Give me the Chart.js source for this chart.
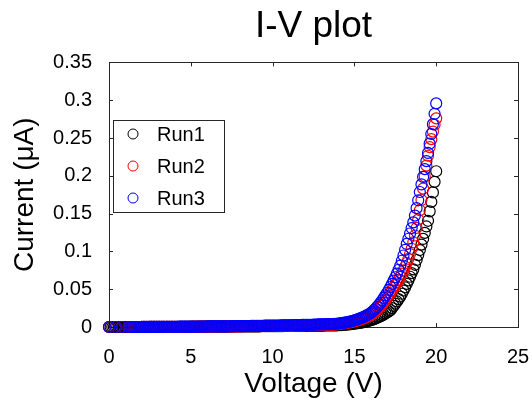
<!DOCTYPE html>
<html>
<head>
<meta charset="utf-8">
<script src="https://cdn.jsdelivr.net/npm/chart.js@4"></script>
<style>
  html, body { margin: 0; padding: 0; background: #fff; }
  #wrap { width: 532px; height: 401px; }
</style>
</head>
<body>
<div id="wrap"><canvas id="chart" width="532" height="401"></canvas></div>
<script>
// voltage sweep (V), 0.1 V steps
const voltage = [
  0.0, 0.1, 0.2, 0.3, 0.4, 0.5, 0.6, 0.7, 0.8, 0.9,
  1.0, 1.1, 1.2, 1.3, 1.4, 1.5, 1.6, 1.7, 1.8, 1.9,
  2.0, 2.1, 2.2, 2.3, 2.4, 2.5, 2.6, 2.7, 2.8, 2.9,
  3.0, 3.1, 3.2, 3.3, 3.4, 3.5, 3.6, 3.7, 3.8, 3.9,
  4.0, 4.1, 4.2, 4.3, 4.4, 4.5, 4.6, 4.7, 4.8, 4.9,
  5.0, 5.1, 5.2, 5.3, 5.4, 5.5, 5.6, 5.7, 5.8, 5.9,
  6.0, 6.1, 6.2, 6.3, 6.4, 6.5, 6.6, 6.7, 6.8, 6.9,
  7.0, 7.1, 7.2, 7.3, 7.4, 7.5, 7.6, 7.7, 7.8, 7.9,
  8.0, 8.1, 8.2, 8.3, 8.4, 8.5, 8.6, 8.7, 8.8, 8.9,
  9.0, 9.1, 9.2, 9.3, 9.4, 9.5, 9.6, 9.7, 9.8, 9.9,
  10.0, 10.1, 10.2, 10.3, 10.4, 10.5, 10.6, 10.7, 10.8, 10.9,
  11.0, 11.1, 11.2, 11.3, 11.4, 11.5, 11.6, 11.7, 11.8, 11.9,
  12.0, 12.1, 12.2, 12.3, 12.4, 12.5, 12.6, 12.7, 12.8, 12.9,
  13.0, 13.1, 13.2, 13.3, 13.4, 13.5, 13.6, 13.7, 13.8, 13.9,
  14.0, 14.1, 14.2, 14.3, 14.4, 14.5, 14.6, 14.7, 14.8, 14.9,
  15.0, 15.1, 15.2, 15.3, 15.4, 15.5, 15.6, 15.7, 15.8, 15.9,
  16.0, 16.1, 16.2, 16.3, 16.4, 16.5, 16.6, 16.7, 16.8, 16.9,
  17.0, 17.1, 17.2, 17.3, 17.4, 17.5, 17.6, 17.7, 17.8, 17.9,
  18.0, 18.1, 18.2, 18.3, 18.4, 18.5, 18.6, 18.7, 18.8, 18.9,
  19.0, 19.1, 19.2, 19.3, 19.4, 19.5, 19.6, 19.7, 19.8, 19.9,
  20.0
];

// current (uA); null = no reading at that step
const run1 = [
  0, 0, 0, 0, 0, 0, 0, 0, 0, 0,
  0, 0, 0, 0, 0, 0, 0, 0, 0, 0,
  0, 0, 0, 0, 0, 0.0001, 0.0001, 0.0001, 0.0001, 0.0001,
  0.0001, 0.0001, 0.0001, 0.0002, 0.0002, 0.0002, 0.0002, 0.0002, 0.0002, 0.0002,
  0.0002, 0.0002, 0.0002, 0.0002, 0.0002, 0.0003, 0.0003, 0.0003, 0.0003, 0.0003,
  0.0003, 0.0003, 0.0003, 0.0003, 0.0003, 0.0004, 0.0004, 0.0004, 0.0004, 0.0004,
  0.0004, 0.0004, 0.0004, 0.0004, 0.0004, 0.0005, 0.0005, 0.0005, 0.0005, 0.0005,
  0.0005, 0.0005, 0.0005, 0.0006, 0.0006, 0.0006, 0.0006, 0.0007, 0.0007, 0.0007,
  0.0007, 0.0007, 0.0007, 0.0008, 0.0008, 0.0008, 0.0008, 0.0009, 0.0009, 0.0009,
  0.0009, 0.0009, 0.0009, 0.0010, 0.0010, 0.0010, 0.0010, 0.0011, 0.0011, 0.0011,
  0.0011, 0.0011, 0.0011, 0.0012, 0.0012, 0.0012, 0.0012, 0.0013, 0.0013, 0.0013,
  0.0013, 0.0013, 0.0014, 0.0014, 0.0014, 0.0015, 0.0015, 0.0015, 0.0016, 0.0016,
  0.0016, 0.0016, 0.0017, 0.0017, 0.0017, 0.0018, 0.0018, 0.0018, 0.0019, 0.0019,
  0.0019, 0.0019, 0.0020, 0.0020, 0.0020, 0.0021, 0.0021, 0.0021, 0.0022, 0.0022,
  0.0024, 0.0025, 0.0026, 0.0028, 0.0030, 0.0032, 0.0034, 0.0036, 0.0039, 0.0042,
  0.0045, 0.0047, 0.0050, 0.0053, 0.0057, 0.0061, 0.0066, 0.0071, 0.0077, 0.0083,
  0.0090, 0.0097, 0.0105, 0.0113, 0.0122, 0.0132, 0.0142, 0.0153, 0.0165, 0.0178,
  0.0192, 0.0207, 0.0223, 0.0250, 0.0279, 0.0308, 0.0338, 0.0369, 0.0402, 0.0440,
  0.0482, 0.0525, 0.0570, 0.0617, 0.0665, 0.0713, 0.0763, 0.0823, 0.0886, 0.0951,
  0.1018, 0.1090, 0.1165, 0.1245, 0.1330, 0.1405, 0.1530, 0.1655, 0.1780, 0.1920,
  0.2060
];
const run2 = [
  0, null, null, null, 0, null, null, null, 0, null,
  null, null, 0, 0, 0, 0, 0, 0, 0, 0,
  0.0001, 0.0001, 0.0001, 0.0001, 0.0001, 0.0001, 0.0001, 0.0001, 0.0001, 0.0001,
  0.0002, 0.0002, 0.0002, 0.0002, 0.0002, 0.0002, 0.0002, 0.0002, 0.0002, 0.0002,
  0.0003, 0.0003, 0.0003, 0.0003, 0.0003, 0.0003, 0.0003, 0.0003, 0.0003, 0.0003,
  0.0004, 0.0004, 0.0004, 0.0004, 0.0004, 0.0005, 0.0005, 0.0005, 0.0005, 0.0005,
  0.0005, 0.0005, 0.0005, 0.0006, 0.0006, 0.0006, 0.0006, 0.0007, 0.0007, 0.0007,
  0.0007, 0.0007, 0.0007, 0.0008, 0.0008, 0.0008, 0.0008, 0.0009, 0.0009, 0.0009,
  0.0009, 0.0009, 0.0010, 0.0010, 0.0010, 0.0011, 0.0011, 0.0011, 0.0011, 0.0011,
  0.0012, 0.0012, 0.0012, 0.0013, 0.0013, 0.0013, 0.0014, 0.0014, 0.0014, 0.0014,
  0.0015, 0.0015, 0.0015, 0.0016, 0.0016, 0.0016, 0.0017, 0.0017, 0.0018, 0.0018,
  0.0019, 0.0019, 0.0019, 0.0020, 0.0020, 0.0021, 0.0021, 0.0021, 0.0022, 0.0022,
  0.0023, 0.0023, 0.0023, 0.0024, 0.0024, 0.0026, 0.0026, 0.0026, 0.0027, 0.0027,
  0.0029, 0.0029, 0.0029, 0.0030, 0.0030, 0.0032, 0.0032, 0.0032, 0.0034, 0.0034,
  0.0037, 0.0040, 0.0043, 0.0046, 0.0049, 0.0053, 0.0056, 0.0060, 0.0065, 0.0070,
  0.0075, 0.0081, 0.0087, 0.0094, 0.0101, 0.0109, 0.0117, 0.0127, 0.0136, 0.0146,
  0.0157, 0.0173, 0.0190, 0.0208, 0.0229, 0.0251, 0.0275, 0.0300, 0.0327, 0.0355,
  0.0385, 0.0416, 0.0450, 0.0485, 0.0521, 0.0555, 0.0590, 0.0626, 0.0664, 0.0705,
  0.0750, 0.0797, 0.0847, 0.0900, 0.0965, 0.1035, 0.1120, 0.1210, 0.1310, 0.1420,
  0.1545, 0.1680, 0.1830, 0.1990, 0.2135, 0.2265, 0.2380, 0.2485, 0.2585, 0.2675,
  0.2760
];
const run3 = [
  0, null, null, null, 0, null, null, null, 0, null,
  null, null, 0, 0, 0, 0, 0, 0, 0, 0,
  0.0001, 0.0001, 0.0001, 0.0001, 0.0001, 0.0001, 0.0001, 0.0001, 0.0001, 0.0001,
  0.0002, 0.0002, 0.0002, 0.0002, 0.0002, 0.0003, 0.0003, 0.0003, 0.0003, 0.0003,
  0.0003, 0.0003, 0.0003, 0.0004, 0.0004, 0.0004, 0.0004, 0.0004, 0.0004, 0.0004,
  0.0005, 0.0005, 0.0005, 0.0005, 0.0005, 0.0006, 0.0006, 0.0006, 0.0006, 0.0006,
  0.0007, 0.0007, 0.0007, 0.0007, 0.0007, 0.0008, 0.0008, 0.0008, 0.0008, 0.0008,
  0.0009, 0.0009, 0.0009, 0.0009, 0.0010, 0.0010, 0.0010, 0.0011, 0.0011, 0.0011,
  0.0011, 0.0012, 0.0012, 0.0012, 0.0013, 0.0013, 0.0013, 0.0014, 0.0014, 0.0014,
  0.0015, 0.0015, 0.0015, 0.0016, 0.0016, 0.0017, 0.0017, 0.0017, 0.0018, 0.0018,
  0.0019, 0.0019, 0.0019, 0.0020, 0.0020, 0.0021, 0.0021, 0.0021, 0.0022, 0.0022,
  0.0023, 0.0023, 0.0023, 0.0024, 0.0024, 0.0026, 0.0026, 0.0026, 0.0027, 0.0027,
  0.0029, 0.0029, 0.0029, 0.0030, 0.0030, 0.0032, 0.0032, 0.0032, 0.0034, 0.0034,
  0.0036, 0.0036, 0.0036, 0.0038, 0.0038, 0.0040, 0.0040, 0.0040, 0.0043, 0.0043,
  0.0046, 0.0048, 0.0051, 0.0054, 0.0058, 0.0062, 0.0066, 0.0071, 0.0076, 0.0082,
  0.0088, 0.0095, 0.0102, 0.0110, 0.0119, 0.0128, 0.0138, 0.0149, 0.0160, 0.0172,
  0.0185, 0.0203, 0.0223, 0.0245, 0.0269, 0.0295, 0.0323, 0.0353, 0.0385, 0.0418,
  0.0453, 0.0490, 0.0529, 0.0570, 0.0613, 0.0658, 0.0706, 0.0757, 0.0811, 0.0876,
  0.0946, 0.1021, 0.1099, 0.1167, 0.1237, 0.1309, 0.1384, 0.1474, 0.1572, 0.1676,
  0.1786, 0.1886, 0.1985, 0.2088, 0.2194, 0.2302, 0.2425, 0.2553, 0.2683, 0.2820,
  0.2958
];

const runNames = ["Run1", "Run2", "Run3"];
const runColors = ["#000000", "#ff0000", "#0000ff"];
const xTickLabels = ["0", "5", "10", "15", "20", "25"];
const yTickLabels = ["0", "0.05", "0.1", "0.15", "0.2", "0.25", "0.3", "0.35"];

const FONT = "'Liberation Sans', Arial, Helvetica, sans-serif";
const AXIS = "#262626";

function points(ys) {
    const out = [];
    voltage.forEach((v, i) => {
        if (ys[i] !== null) out.push({ x: v, y: ys[i] });
    });
    return out;
}

// matlab style box with inward ticks, drawn under the markers
const boxPlugin = {
    id: "box",
    beforeDatasetsDraw(chart) {
        const { ctx, chartArea: a, scales } = chart;
        ctx.save();
        ctx.strokeStyle = AXIS;
        ctx.lineWidth = 1;
        ctx.strokeRect(Math.round(a.left) + 0.5, Math.round(a.top) + 0.5,
            Math.round(a.right - a.left), Math.round(a.bottom - a.top));
        ctx.beginPath();
        scales.x.ticks.forEach(t => {
            const px = Math.round(scales.x.getPixelForValue(t.value)) + 0.5;
            ctx.moveTo(px, a.bottom); ctx.lineTo(px, a.bottom - 4);
            ctx.moveTo(px, a.top); ctx.lineTo(px, a.top + 4);
        });
        scales.y.ticks.forEach(t => {
            const py = Math.round(scales.y.getPixelForValue(t.value)) + 0.5;
            ctx.moveTo(a.left, py); ctx.lineTo(a.left + 4, py);
            ctx.moveTo(a.right, py); ctx.lineTo(a.right - 4, py);
        });
        ctx.stroke();
        ctx.restore();
    }
};

// legend box inside the axes
const legendPlugin = {
    id: "innerLegend",
    afterDatasetsDraw(chart) {
        const ctx = chart.ctx;
        const left = 113.5, top = 120.5, w = 111, h = 92;
        ctx.save();
        ctx.fillStyle = "#fff";
        ctx.fillRect(left, top, w, h);
        ctx.strokeStyle = AXIS;
        ctx.lineWidth = 1;
        ctx.strokeRect(left, top, w, h);
        ctx.font = "20px " + FONT;
        ctx.textBaseline = "middle";
        runNames.forEach((name, i) => {
            const y = 134 + i * 32;
            ctx.beginPath();
            ctx.arc(133, y, 5, 0, Math.PI * 2);
            ctx.strokeStyle = runColors[i];
            ctx.stroke();
            ctx.fillStyle = "#000";
            ctx.fillText(name, 157, y + 1);
        });
        ctx.restore();
    }
};

const ctx = document.getElementById("chart").getContext("2d");

new Chart(ctx, {
    type: "scatter",
    data: {
        datasets: [run1, run2, run3].map((ys, i) => ({
            label: runNames[i],
            data: points(ys),
            showLine: false,
            pointStyle: "circle",
            pointRadius: 5.5,
            pointBorderWidth: 1.2,
            pointBorderColor: runColors[i],
            pointBackgroundColor: "rgba(0,0,0,0)",
            borderColor: runColors[i],
            order: 3 - i,
            clip: false
        }))
    },
    options: {
        responsive: false,
        animation: false,
        events: [],
        layout: { padding: { left: 0, right: 14, top: 0, bottom: 0 } },
        plugins: {
            legend: { display: false },
            tooltip: { enabled: false },
            title: {
                display: true,
                fullSize: false,
                text: "I-V plot",
                color: "#000",
                font: { family: FONT, size: 37, weight: "normal" },
                padding: { top: 5, bottom: 13 }
            }
        },
        scales: {
            x: {
                type: "linear",
                min: 0,
                max: 25,
                grid: { display: false },
                border: { display: true, color: AXIS, width: 1 },
                ticks: {
                    stepSize: 5,
                    padding: 10,
                    color: "#000",
                    font: { family: FONT, size: 20 },
                    maxRotation: 0,
                    callback: (v) => xTickLabels[Math.round(v / 5)]
                },
                title: {
                    display: true,
                    text: "Voltage (V)",
                    color: "#000",
                    font: { family: FONT, size: 28 },
                    padding: { top: 0, bottom: 0 }
                },
                afterFit: (s) => {
                    s.height = 74;
                    s.paddingLeft = 0;
                    s.paddingRight = 0;
                }
            },
            y: {
                type: "linear",
                min: 0,
                max: 0.35,
                grid: { display: false },
                border: { display: true, color: AXIS, width: 1 },
                ticks: {
                    stepSize: 0.05,
                    padding: 9,
                    color: "#000",
                    font: { family: FONT, size: 20 },
                    callback: (v) => yTickLabels[Math.round(v / 0.05)]
                },
                title: {
                    display: true,
                    text: "Current (μA)",
                    color: "#000",
                    font: { family: FONT, size: 28 },
                    padding: { top: 8, bottom: 0 }
                },
                afterFit: (s) => { s.width = 109; }
            }
        }
    },
    plugins: [boxPlugin, legendPlugin]
});
</script>
</body>
</html>
